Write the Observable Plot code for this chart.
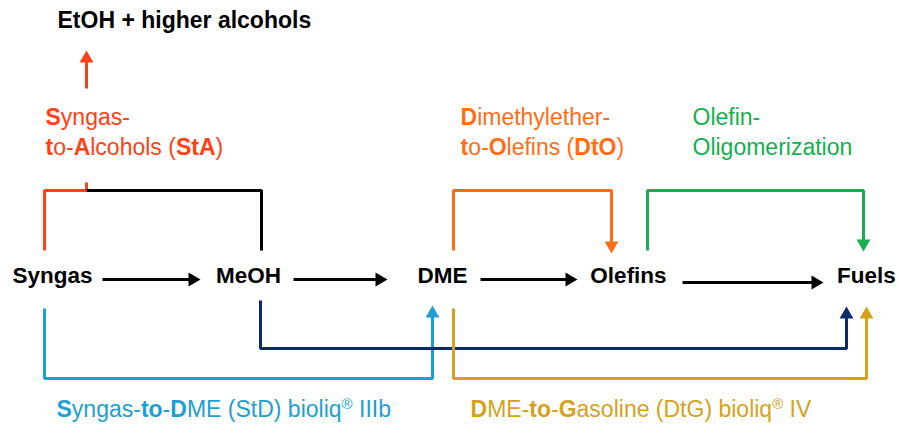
<!DOCTYPE html>
<html><head><meta charset="utf-8">
<script src="https://cdn.jsdelivr.net/npm/d3@7"></script>
<script src="https://cdn.jsdelivr.net/npm/@observablehq/plot@0.6"></script>
<style>body{margin:0;background:#fff}#chart svg{display:block}</style>
</head><body><div id="chart"></div>
<script>
// Nodes of the process chain
const nodeNames = ["Syngas", "MeOH", "DME", "Olefins", "Fuels"];
const nodeX = [52, 248, 442, 628, 866];
const nodeY = [275, 275, 275, 275, 275];

// Main conversion arrows (from x, to x, y)
const mainFrom = [102, 293, 480, 682];
const mainTo = [200, 387, 577, 823];
const mainY = [279, 279, 279, 282];

// Process routes (polylines), last point is the arrow tip where arrow = true
const routeNames = ["StA", "StA-tick", "MeOH-link", "StA-out", "DtO", "Olig", "StD", "MtF", "DtG"];
const routeColors = ["#FF4115", "#FF4115", "#000000", "#FF4115", "#FF6E17", "#14AF4F", "#1D9FD0", "#0B2A6A", "#D4A21C"];
const routeXs = [[44, 44, 86], [86, 86], [86, 261, 261], [86, 86], [453, 453, 611, 611], [647, 647, 863, 863], [44, 44, 432, 432], [260, 260, 846, 846], [453, 453, 866, 866]];
const routeYs = [[250, 190, 190], [182, 191], [190, 190, 250], [88, 50], [250, 190, 190, 253], [250, 190, 190, 251], [308, 378, 378, 305], [300, 348, 348, 306], [308, 378, 378, 306]];
const routeArrow = [false, false, false, true, true, true, true, true, true];

// Labels
const labelTexts = [
  "EtOH + higher alcohols",
  "**S**yngas-", "**t**o-**A**lcohols (**StA**)",
  "**D**imethylether-", "**t**o-**O**lefins (**DtO**)",
  "Olefin-", "Oligomerization",
  "**S**yngas-**to**-**D**ME (StD) bioliq^®^ IIIb",
  "**D**ME-**to**-**G**asoline (DtG) bioliq^®^ IV"
];
const labelX = [57, 45, 45, 460, 460, 692, 692, 56, 470];
const labelY = [20, 117, 147, 117, 147, 117, 147, 409, 409];
const labelColors = ["#000000", "#FF4115", "#FF4115", "#FF6E17", "#FF6E17", "#14AF4F", "#14AF4F", "#1D9FD0", "#D4A21C"];
const labelBold = [true, false, false, false, false, false, false, false, false];

// ---- build tables ----
const segs = [];
const heads = [];
const HEAD = 12;       // arrowhead length
const BACK = HEAD * 2 / 3; // tip to centroid
function addPath(name, color, xs, ys, arrow) {
  const pts = xs.map((x, i) => ({x, y: ys[i]}));
  if (arrow) {
    const a = pts[pts.length - 2], b = pts[pts.length - 1];
    const dx = b.x - a.x, dy = b.y - a.y, len = Math.hypot(dx, dy);
    const ux = dx / len, uy = dy / len;
    const cx = b.x - ux * BACK, cy = b.y - uy * BACK;
    pts[pts.length - 1] = {x: cx, y: cy};
    const rot = Math.atan2(dx, -dy) * 180 / Math.PI;
    heads.push({x: cx, y: cy, rot, color});
  }
  pts.forEach(p => segs.push({route: name, x: p.x, y: p.y, color}));
}
mainFrom.forEach((f, i) => addPath("main" + i, "#000000", [f, mainTo[i]], [mainY[i], mainY[i]], true));
routeNames.forEach((n, i) => addPath(n, routeColors[i], routeXs[i], routeYs[i], routeArrow[i]));

const nodes = nodeNames.map((t, i) => ({t, x: nodeX[i], y: nodeY[i]}));
const labels = labelTexts.map((t, i) => ({t, x: labelX[i], y: labelY[i], color: labelColors[i], bold: labelBold[i]}));

const triR = Math.sqrt(Math.pow(HEAD / 3, 2) * 3 * Math.sqrt(3) / Math.PI);

const chart = Plot.plot({
  width: 898, height: 428,
  margin: 0,
  x: {domain: [0, 898], range: [0, 898], axis: null},
  y: {domain: [0, 428], range: [0, 428], axis: null},
  color: {type: "identity"},
  style: {fontFamily: "'Liberation Sans', Arial, sans-serif", background: "#fff"},
  marks: [
    Plot.line(segs, {x: "x", y: "y", z: "route", stroke: "color", strokeWidth: 3, strokeLinejoin: "miter", strokeLinecap: "butt"}),
    Plot.dot(heads, {x: "x", y: "y", symbol: "triangle", r: triR, fill: "color", rotate: "rot", stroke: null}),
    Plot.text(nodes, {x: "x", y: "y", text: "t", fontSize: 22.5, fontWeight: "bold", fill: "#000", textAnchor: "middle"}),
    Plot.text(labels.filter(d => d.bold), {x: "x", y: "y", text: "t", fontSize: 23, fontWeight: "bold", fill: "color", textAnchor: "start"}),
    Plot.text(labels.filter(d => !d.bold), {x: "x", y: "y", text: "t", fontSize: 23, fill: "color", textAnchor: "start"})
  ]
});

// rich text: **bold** and ^superscript^
d3.select(chart).selectAll("text").each(function() {
  const s = this.textContent;
  if (!/\*\*|\^/.test(s)) return;
  const parts = s.split(/(\*\*[^*]+\*\*|\^[^^]+\^)/).filter(p => p.length);
  const el = d3.select(this);
  el.text(null);
  let sup = false;
  parts.forEach(p => {
    if (p.startsWith("**")) {
      el.append("tspan").attr("font-weight", "bold").text(p.slice(2, -2));
    } else if (p.startsWith("^")) {
      el.append("tspan").attr("font-size", "15px").attr("dy", "-0.55em").text(p.slice(1, -1));
      sup = true;
    } else {
      const t = el.append("tspan").text(p);
      if (sup) { t.attr("dy", "0.37em"); sup = false; }
    }
  });
});

document.getElementById("chart").appendChild(chart);
</script>
</body></html>
